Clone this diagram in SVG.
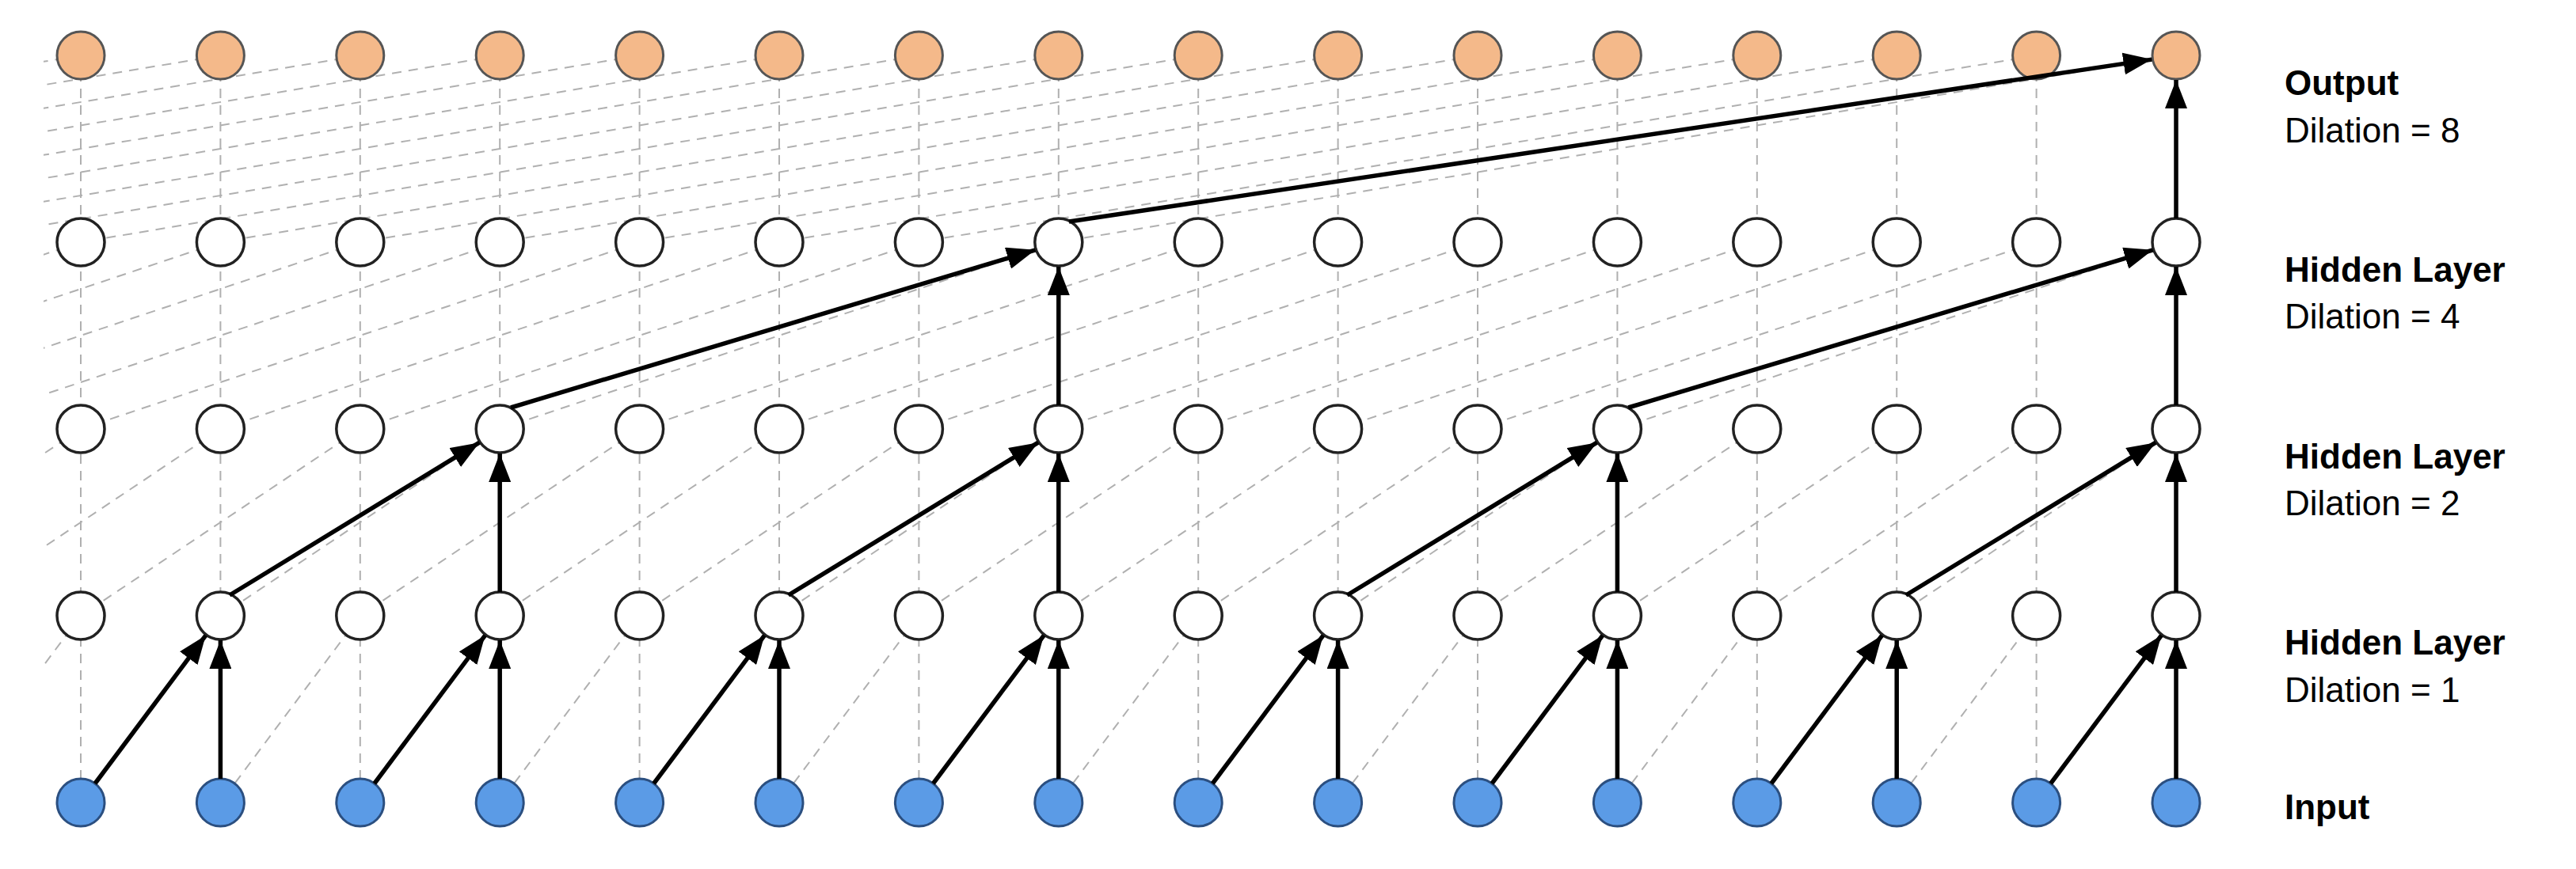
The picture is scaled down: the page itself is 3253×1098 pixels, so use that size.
<svg xmlns="http://www.w3.org/2000/svg" width="3253" height="1098" viewBox="0 0 3253 1098">
<style>
.o{fill:#F4B98A;stroke:#555;stroke-width:3}
.h{fill:#fff;stroke:#222;stroke-width:3.5}
.i{fill:#5B9BE6;stroke:#2b4f80;stroke-width:3}
.d{fill:none;stroke:#b0b0b0;stroke-width:2;stroke-dasharray:12 9}
.a{stroke:#000;stroke-width:5.5;fill:none;marker-end:url(#ah)}
.b{font-family:"Liberation Sans",Arial,sans-serif;font-weight:bold;font-size:44px;fill:#000}
.t{font-family:"Liberation Sans",Arial,sans-serif;font-size:44px;fill:#000}
</style>
<defs>
<marker id="ah" markerUnits="userSpaceOnUse" markerWidth="36" markerHeight="28" refX="36" refY="14" orient="auto"><path d="M0,0 L36,14 L0,28 z" fill="#000"/></marker>
<clipPath id="cl"><rect x="55" y="0" width="2740" height="1098"/></clipPath>
</defs>
<rect width="3253" height="1098" fill="#fff"/>
<g id="grid" clip-path="url(#cl)">
<path class="d" d="M102 70V1014M278.4 70V1014M454.8 70V1014M631.2 70V1014M807.6 70V1014M984 70V1014M1160.4 70V1014M1336.8 70V1014M1513.2 70V1014M1689.6 70V1014M1866 70V1014M2042.4 70V1014M2218.8 70V1014M2395.2 70V1014M2571.6 70V1014M2748 70V1014"/>
<path class="d" d="M102 778l-176.4 236M278.4 778l-176.4 236M454.8 778l-176.4 236M631.2 778l-176.4 236M807.6 778l-176.4 236M984 778l-176.4 236M1160.4 778l-176.4 236M1336.8 778l-176.4 236M1513.2 778l-176.4 236M1689.6 778l-176.4 236M1866 778l-176.4 236M2042.4 778l-176.4 236M2218.8 778l-176.4 236M2395.2 778l-176.4 236M2571.6 778l-176.4 236M2748 778l-176.4 236"/>
<path class="d" d="M102 542l-352.8 236M278.4 542l-352.8 236M454.8 542l-352.8 236M631.2 542l-352.8 236M807.6 542l-352.8 236M984 542l-352.8 236M1160.4 542l-352.8 236M1336.8 542l-352.8 236M1513.2 542l-352.8 236M1689.6 542l-352.8 236M1866 542l-352.8 236M2042.4 542l-352.8 236M2218.8 542l-352.8 236M2395.2 542l-352.8 236M2571.6 542l-352.8 236M2748 542l-352.8 236"/>
<path class="d" d="M102 306l-705.6 236M278.4 306l-705.6 236M454.8 306l-705.6 236M631.2 306l-705.6 236M807.6 306l-705.6 236M984 306l-705.6 236M1160.4 306l-705.6 236M1336.8 306l-705.6 236M1513.2 306l-705.6 236M1689.6 306l-705.6 236M1866 306l-705.6 236M2042.4 306l-705.6 236M2218.8 306l-705.6 236M2395.2 306l-705.6 236M2571.6 306l-705.6 236M2748 306l-705.6 236"/>
<path class="d" d="M102 70l-1411.2 236M278.4 70l-1411.2 236M454.8 70l-1411.2 236M631.2 70l-1411.2 236M807.6 70l-1411.2 236M984 70l-1411.2 236M1160.4 70l-1411.2 236M1336.8 70l-1411.2 236M1513.2 70l-1411.2 236M1689.6 70l-1411.2 236M1866 70l-1411.2 236M2042.4 70l-1411.2 236M2218.8 70l-1411.2 236M2395.2 70l-1411.2 236M2571.6 70l-1411.2 236M2748 70l-1411.2 236"/>
</g>
<g id="output-layer">
<circle class="o" cx="102" cy="70" r="30"/><circle class="o" cx="278.4" cy="70" r="30"/><circle class="o" cx="454.8" cy="70" r="30"/><circle class="o" cx="631.2" cy="70" r="30"/><circle class="o" cx="807.6" cy="70" r="30"/><circle class="o" cx="984" cy="70" r="30"/><circle class="o" cx="1160.4" cy="70" r="30"/><circle class="o" cx="1336.8" cy="70" r="30"/><circle class="o" cx="1513.2" cy="70" r="30"/><circle class="o" cx="1689.6" cy="70" r="30"/><circle class="o" cx="1866" cy="70" r="30"/><circle class="o" cx="2042.4" cy="70" r="30"/><circle class="o" cx="2218.8" cy="70" r="30"/><circle class="o" cx="2395.2" cy="70" r="30"/><circle class="o" cx="2571.6" cy="70" r="30"/><circle class="o" cx="2748" cy="70" r="30"/>
</g>
<g id="hidden-layer-4">
<circle class="h" cx="102" cy="306" r="30"/><circle class="h" cx="278.4" cy="306" r="30"/><circle class="h" cx="454.8" cy="306" r="30"/><circle class="h" cx="631.2" cy="306" r="30"/><circle class="h" cx="807.6" cy="306" r="30"/><circle class="h" cx="984" cy="306" r="30"/><circle class="h" cx="1160.4" cy="306" r="30"/><circle class="h" cx="1336.8" cy="306" r="30"/><circle class="h" cx="1513.2" cy="306" r="30"/><circle class="h" cx="1689.6" cy="306" r="30"/><circle class="h" cx="1866" cy="306" r="30"/><circle class="h" cx="2042.4" cy="306" r="30"/><circle class="h" cx="2218.8" cy="306" r="30"/><circle class="h" cx="2395.2" cy="306" r="30"/><circle class="h" cx="2571.6" cy="306" r="30"/><circle class="h" cx="2748" cy="306" r="30"/>
</g>
<g id="hidden-layer-2">
<circle class="h" cx="102" cy="542" r="30"/><circle class="h" cx="278.4" cy="542" r="30"/><circle class="h" cx="454.8" cy="542" r="30"/><circle class="h" cx="631.2" cy="542" r="30"/><circle class="h" cx="807.6" cy="542" r="30"/><circle class="h" cx="984" cy="542" r="30"/><circle class="h" cx="1160.4" cy="542" r="30"/><circle class="h" cx="1336.8" cy="542" r="30"/><circle class="h" cx="1513.2" cy="542" r="30"/><circle class="h" cx="1689.6" cy="542" r="30"/><circle class="h" cx="1866" cy="542" r="30"/><circle class="h" cx="2042.4" cy="542" r="30"/><circle class="h" cx="2218.8" cy="542" r="30"/><circle class="h" cx="2395.2" cy="542" r="30"/><circle class="h" cx="2571.6" cy="542" r="30"/><circle class="h" cx="2748" cy="542" r="30"/>
</g>
<g id="hidden-layer-1">
<circle class="h" cx="102" cy="778" r="30"/><circle class="h" cx="278.4" cy="778" r="30"/><circle class="h" cx="454.8" cy="778" r="30"/><circle class="h" cx="631.2" cy="778" r="30"/><circle class="h" cx="807.6" cy="778" r="30"/><circle class="h" cx="984" cy="778" r="30"/><circle class="h" cx="1160.4" cy="778" r="30"/><circle class="h" cx="1336.8" cy="778" r="30"/><circle class="h" cx="1513.2" cy="778" r="30"/><circle class="h" cx="1689.6" cy="778" r="30"/><circle class="h" cx="1866" cy="778" r="30"/><circle class="h" cx="2042.4" cy="778" r="30"/><circle class="h" cx="2218.8" cy="778" r="30"/><circle class="h" cx="2395.2" cy="778" r="30"/><circle class="h" cx="2571.6" cy="778" r="30"/><circle class="h" cx="2748" cy="778" r="30"/>
</g>
<g id="input-layer">
<circle class="i" cx="102" cy="1014" r="30"/><circle class="i" cx="278.4" cy="1014" r="30"/><circle class="i" cx="454.8" cy="1014" r="30"/><circle class="i" cx="631.2" cy="1014" r="30"/><circle class="i" cx="807.6" cy="1014" r="30"/><circle class="i" cx="984" cy="1014" r="30"/><circle class="i" cx="1160.4" cy="1014" r="30"/><circle class="i" cx="1336.8" cy="1014" r="30"/><circle class="i" cx="1513.2" cy="1014" r="30"/><circle class="i" cx="1689.6" cy="1014" r="30"/><circle class="i" cx="1866" cy="1014" r="30"/><circle class="i" cx="2042.4" cy="1014" r="30"/><circle class="i" cx="2218.8" cy="1014" r="30"/><circle class="i" cx="2395.2" cy="1014" r="30"/><circle class="i" cx="2571.6" cy="1014" r="30"/><circle class="i" cx="2748" cy="1014" r="30"/>
</g>
<g id="connectors">
<line class="a" x1="120" y1="990" x2="259.8" y2="802.8"/><line class="a" x1="278.4" y1="984" x2="278.4" y2="809"/>
<line class="a" x1="472.8" y1="990" x2="612.6" y2="802.8"/><line class="a" x1="631.2" y1="984" x2="631.2" y2="809"/>
<line class="a" x1="825.6" y1="990" x2="965.4" y2="802.8"/><line class="a" x1="984" y1="984" x2="984" y2="809"/>
<line class="a" x1="1178.4" y1="990" x2="1318.2" y2="802.8"/><line class="a" x1="1336.8" y1="984" x2="1336.8" y2="809"/>
<line class="a" x1="1531.2" y1="990" x2="1671" y2="802.8"/><line class="a" x1="1689.6" y1="984" x2="1689.6" y2="809"/>
<line class="a" x1="1884" y1="990" x2="2023.8" y2="802.8"/><line class="a" x1="2042.4" y1="984" x2="2042.4" y2="809"/>
<line class="a" x1="2236.8" y1="990" x2="2376.6" y2="802.8"/><line class="a" x1="2395.2" y1="984" x2="2395.2" y2="809"/>
<line class="a" x1="2589.6" y1="990" x2="2729.4" y2="802.8"/><line class="a" x1="2748" y1="984" x2="2748" y2="809"/>
<line class="a" x1="290" y1="752" x2="605.4" y2="559.2"/><line class="a" x1="631.2" y1="748" x2="631.2" y2="573"/>
<line class="a" x1="995.6" y1="752" x2="1311" y2="559.2"/><line class="a" x1="1336.8" y1="748" x2="1336.8" y2="573"/>
<line class="a" x1="1701.2" y1="752" x2="2016.6" y2="559.2"/><line class="a" x1="2042.4" y1="748" x2="2042.4" y2="573"/>
<line class="a" x1="2406.8" y1="752" x2="2722.2" y2="559.2"/><line class="a" x1="2748" y1="748" x2="2748" y2="573"/>
<line class="a" x1="645" y1="515" x2="1307.4" y2="315.8"/><line class="a" x1="1336.8" y1="512" x2="1336.8" y2="337"/>
<line class="a" x1="2056.2" y1="515" x2="2718.6" y2="315.8"/><line class="a" x1="2748" y1="512" x2="2748" y2="337"/>
<line class="a" x1="1350" y1="280" x2="2717.4" y2="75.1"/><line class="a" x1="2748" y1="276" x2="2748" y2="101"/>
</g>
<g id="labels">
<text class="b" x="2885" y="120">Output</text><text class="t" x="2885" y="180">Dilation = 8</text>
<text class="b" x="2885" y="356">Hidden Layer</text><text class="t" x="2885" y="415">Dilation = 4</text>
<text class="b" x="2885" y="592">Hidden Layer</text><text class="t" x="2885" y="651">Dilation = 2</text>
<text class="b" x="2885" y="827">Hidden Layer</text><text class="t" x="2885" y="887">Dilation = 1</text>
<text class="b" x="2885" y="1035">Input</text>
</g>
</svg>
